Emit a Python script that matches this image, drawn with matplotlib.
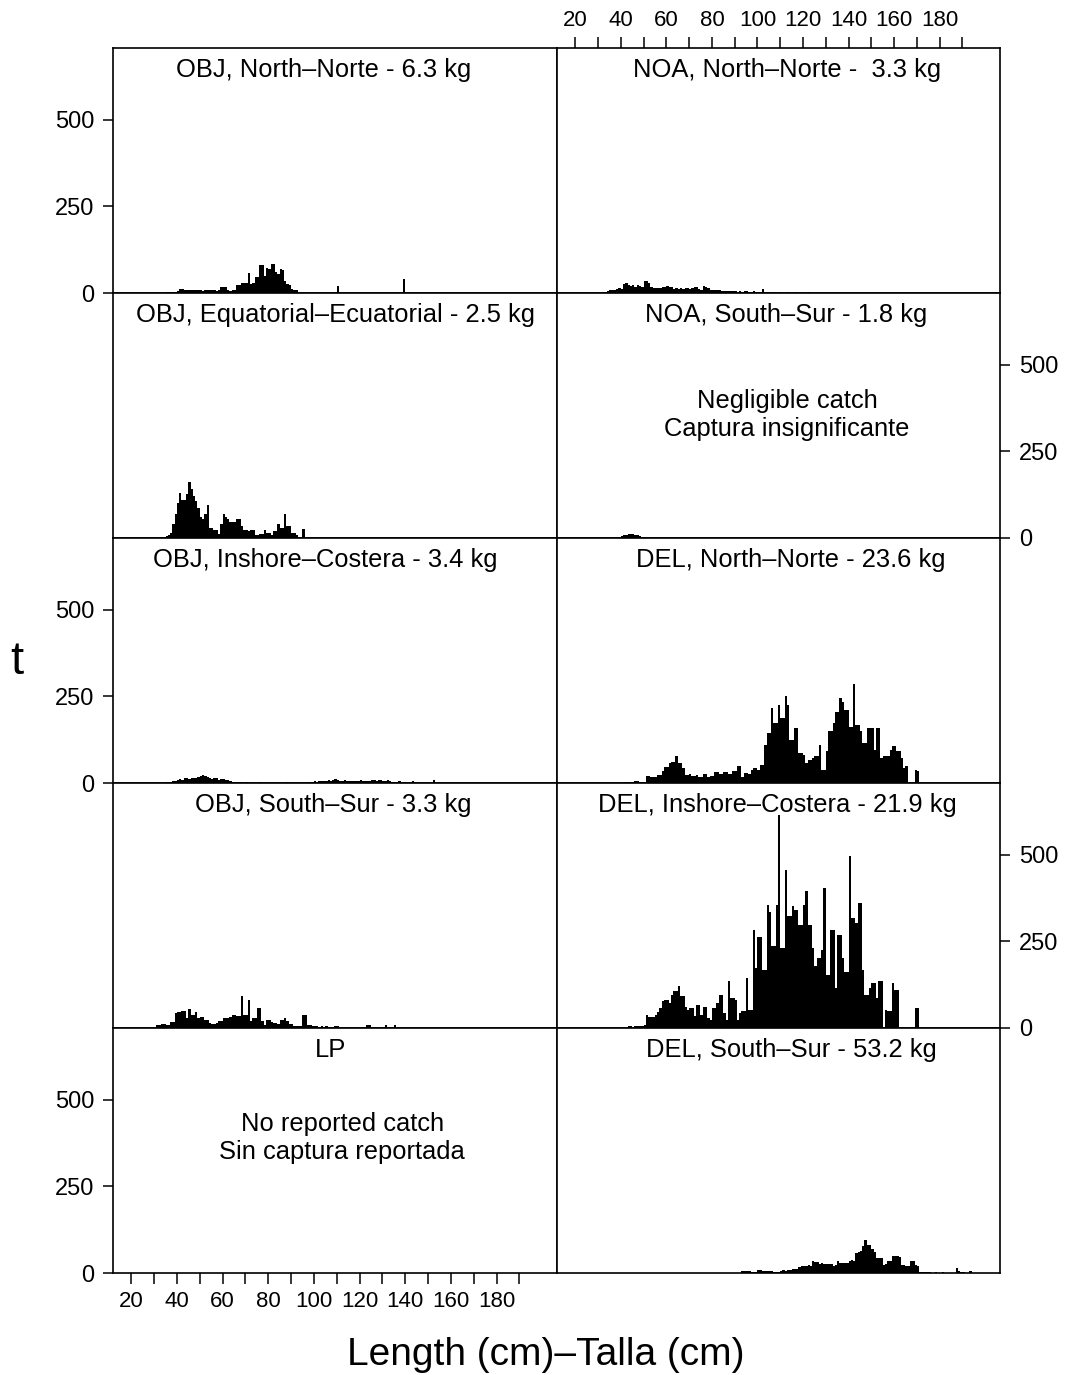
import matplotlib
matplotlib.use("Agg")
import matplotlib.pyplot as plt
import numpy as np

# length-frequency per 1 cm bin (t)
obj_north_start = 35
obj_north_t = [3, 3, 4, 4, 4, 5, 12, 11, 9, 10, 10, 9, 9, 10, 9, 8, 7, 9, 8, 10, 9, 8, 6, 8,
               17, 18, 16, 8, 7, 9, 10, 22, 22, 28, 30, 30, 58, 25, 28, 45, 45, 82, 80, 50,
               72, 70, 85, 84, 60, 55, 70, 65, 35, 25, 22, 12, 10, 8]
obj_north_extra_cm = [110, 139]
obj_north_extra_t = [21, 40]

noa_north_start = 33
noa_north_t = [2, 6, 8, 10, 9, 12, 14, 12, 25, 28, 22, 20, 22, 18, 24, 20, 16, 35, 36, 28,
               16, 15, 14, 15, 14, 16, 18, 20, 16, 18, 12, 14, 12, 13, 12, 14, 13, 12, 15,
               18, 16, 12, 10, 20, 18, 14, 10, 10, 9, 8, 10, 7, 6, 6, 5, 5, 6, 5, 4, 5, 4,
               6, 5, 4, 4, 5, 3, 4, 3, 12, 3, 2, 1, 2, 1, 1, 2, 1, 1, 1, 2, 1, 1, 1, 2, 1,
               1, 1, 1, 2, 1, 1, 1]

obj_equat_start = 32
obj_equat_t = [3, 4, 4, 5, 8, 15, 40, 70, 100, 130, 110, 110, 128, 162, 140, 120, 107, 87,
               60, 55, 70, 96, 30, 28, 22, 22, 12, 40, 68, 60, 55, 45, 45, 45, 55, 55, 35,
               22, 22, 20, 22, 22, 8, 8, 12, 12, 22, 15, 15, 10, 20, 20, 40, 30, 30, 70, 35,
               35, 15, 15, 10]
obj_equat_extra_cm = [95]
obj_equat_extra_t = [27]

noa_south_start = 38
noa_south_t = [2, 4, 6, 8, 10, 11, 12, 12, 10, 8, 6, 4, 2]

obj_inshore_start = 28
obj_inshore_t = [1, 1, 1, 1, 1, 1, 1, 2, 2,
                 4, 5, 6, 8, 12, 10, 14, 13, 12, 15, 14, 13, 16, 20, 22, 20, 18, 15, 12, 14,
                 13, 10, 12, 11, 9, 8, 7, 4, 3, 2,
                 3, 1, 1, 2, 1, 0, 0, 0, 0, 3, 0, 0, 0, 0, 0, 0, 0, 0, 0, 0, 0, 2, 0, 0, 0,
                 0, 0, 0, 0, 0, 1, 2,
                 4, 5, 4, 6, 6, 5, 7, 8, 7, 9, 11, 8, 6, 5, 9, 7, 5, 6, 7, 5, 6, 8, 7, 5, 6,
                 5, 8, 9, 7, 10, 9, 7, 6, 8, 5, 3, 2, 2, 5, 1, 1, 0, 0, 0, 5, 0, 0, 0, 0, 0,
                 0, 0, 0, 8]

del_north_start = 41
del_north_t = [2, 2, 2, 2, 2, 5, 5, 3, 3, 3, 19, 19, 17, 17, 17, 24, 24, 34, 46, 46, 58, 62,
               62, 77, 58, 58, 43, 24, 24, 27, 19, 19, 24, 17, 17, 27, 27, 17, 21, 21, 31, 31,
               27, 27, 31, 31, 27, 27, 34, 34, 48, 48, 17, 29, 29, 27, 38, 43, 43, 38, 53, 53,
               110, 144, 144, 216, 173, 173, 226, 187, 187, 252, 226, 125, 125, 158, 158, 86,
               86, 82, 58, 67, 67, 72, 77, 77, 110, 38, 38, 91, 149, 149, 173, 206, 206, 245,
               235, 211, 211, 163, 163, 285, 168, 168, 149, 115, 115, 158, 158, 158, 96, 158,
               158, 72, 77, 77, 77, 96, 106, 106, 91, 91, 72, 43, 48, 0, 0, 0, 38, 36]

obj_south_start = 31
obj_south_t = [10, 10, 12, 12, 8, 8, 17, 17, 43, 46, 46, 48, 48, 29, 56, 38, 38, 46, 29, 31,
               31, 24, 24, 14, 12, 12, 14, 19, 19, 29, 29, 29, 31, 38, 38, 36, 36, 91, 38, 38,
               82, 19, 29, 29, 58, 58, 19, 10, 24, 24, 17, 14, 14, 12, 24, 24, 29, 19, 12, 12,
               5, 5, 5, 5, 38, 38, 8, 8, 5, 5, 5, 3, 5, 3, 5, 3, 3, 3, 5, 5]
obj_south_extra_cm = [115, 123, 124, 131, 135]
obj_south_extra_t = [4, 8, 8, 10, 10]

del_inshore_start = 43
del_inshore_t = [5, 5, 0, 6, 6, 6, 6, 10, 37, 31, 31, 31, 38, 45, 58, 77, 82, 82, 72, 96, 106,
                 106, 120, 91, 91, 62, 53, 58, 58, 34, 67, 67, 38, 62, 62, 29, 24, 58, 58, 72,
                 96, 96, 43, 24, 135, 87, 87, 82, 24, 43, 48, 48, 144, 53, 53, 284, 173, 264,
                 264, 168, 168, 356, 336, 236, 236, 356, 615, 231, 231, 457, 322, 322, 351,
                 341, 341, 298, 298, 356, 394, 298, 298, 231, 178, 202, 202, 226, 404, 154,
                 154, 284, 284, 115, 269, 269, 202, 163, 163, 495, 317, 317, 303, 361, 361,
                 168, 96, 96, 115, 130, 130, 87, 135, 135, 0, 53, 48, 48, 130, 111, 111, 0, 0,
                 0, 0, 0, 0, 0, 58, 58]

del_south_start = 93
del_south_t = [5, 5, 5, 5, 4, 4, 4, 8, 8, 7, 6, 6, 6, 6, 4, 4, 4, 6, 8, 7, 10, 9, 12, 11, 12,
               18, 20, 19, 21, 22, 21, 34, 33, 32, 27, 28, 27, 27, 26, 27, 21, 22, 34, 29, 30,
               28, 30, 36, 37, 36, 58, 62, 64, 77, 94, 82, 80, 69, 60, 43, 43, 44, 24, 26, 34,
               34, 48, 48, 48, 46, 24, 22, 19, 20, 34, 34, 24, 20, 3, 3, 2, 2, 2, 0, 0, 3, 0,
               0, 2, 0, 0, 0, 0, 0, 14, 5, 4, 3, 0, 0, 6]

titles = ["OBJ, North\u2013Norte - 6.3 kg", "NOA, North\u2013Norte -  3.3 kg",
          "OBJ, Equatorial\u2013Ecuatorial - 2.5 kg", "NOA, South\u2013Sur - 1.8 kg",
          "OBJ, Inshore\u2013Costera - 3.4 kg", "DEL, North\u2013Norte - 23.6 kg",
          "OBJ, South\u2013Sur - 3.3 kg", "DEL, Inshore\u2013Costera - 21.9 kg",
          "LP", "DEL, South\u2013Sur - 53.2 kg"]

series = [
    (obj_north_start, obj_north_t, obj_north_extra_cm, obj_north_extra_t),
    (noa_north_start, noa_north_t, [], []),
    (obj_equat_start, obj_equat_t, obj_equat_extra_cm, obj_equat_extra_t),
    (noa_south_start, noa_south_t, [], []),
    (obj_inshore_start, obj_inshore_t, [], []),
    (del_north_start, del_north_t, [], []),
    (obj_south_start, obj_south_t, obj_south_extra_cm, obj_south_extra_t),
    (del_inshore_start, del_inshore_t, [], []),
    (None, [], [], []),
    (del_south_start, del_south_t, [], []),
]

title_x = [0.475, 0.519, 0.50, 0.517, 0.477, 0.528, 0.495, 0.497, 0.489, 0.528]

plt.rcParams['font.family'] = ['Liberation Sans', 'DejaVu Sans']

W, H = 1065, 1375
fig = plt.figure(figsize=(W / 100, H / 100), dpi=100)

col_x = [113, 557]
col_w = [444, 443]
row_top = [48, 293, 538, 783, 1028]
row_h = 245

for i in range(10):
    r, c = divmod(i, 2)
    ax = fig.add_axes([col_x[c] / W, 1 - (row_top[r] + row_h) / H, col_w[c] / W, row_h / H])
    start, vals, ex_cm, ex_t = series[i]
    if start is not None:
        x = np.arange(start, start + len(vals))
        ax.bar(x, vals, width=1.0, align='edge', color='black', linewidth=0)
    if ex_cm:
        ax.bar(ex_cm, ex_t, width=1.0, align='edge', color='black', linewidth=0)
    ax.set_xlim(12, 206.5)
    ax.set_ylim(0, 707)
    for s in ax.spines.values():
        s.set_linewidth(1.2)
    ax.text(title_x[i], 0.91, titles[i], transform=ax.transAxes, ha='center', va='center',
            fontsize=18.4)

    ax.tick_params(axis='both', direction='out', length=7.5, width=1.1, labelsize=17,
                   left=False, right=False, top=False, bottom=False,
                   labelleft=False, labelright=False, labeltop=False, labelbottom=False)
    ax.set_yticks([0, 250, 500])
    ax.set_xticks(np.arange(20, 191, 10))
    ax.set_xticklabels([str(v) if v % 20 == 0 else "" for v in range(20, 191, 10)])
    if c == 0 and r in (0, 2, 4):
        ax.tick_params(axis='y', left=True, labelleft=True, pad=6)
    if c == 1 and r in (1, 3):
        ax.tick_params(axis='y', right=True, labelright=True, pad=6)
    if r == 0 and c == 1:
        ax.tick_params(axis='x', top=True, labeltop=True, length=8, pad=4, labelsize=16)
    if r == 4 and c == 0:
        ax.tick_params(axis='x', bottom=True, labelbottom=True, length=8, pad=5, labelsize=16)

    if i == 3:
        ax.text(0.519, 0.502, "Negligible catch\nCaptura insignificante", transform=ax.transAxes,
                ha='center', va='center', fontsize=18.4, linespacing=1.2)
    if i == 8:
        ax.text(0.516, 0.551, "No reported catch\nSin captura reportada", transform=ax.transAxes,
                ha='center', va='center', fontsize=18.4, linespacing=1.2)

fig.text(17 / W, 1 - 662 / H, "t", ha='center', va='center', fontsize=34)
fig.text(546 / W, 1 - 1355 / H, "Length (cm)\u2013Talla (cm)", ha='center', va='center',
         fontsize=28)

fig.savefig("out.png", dpi=100)
